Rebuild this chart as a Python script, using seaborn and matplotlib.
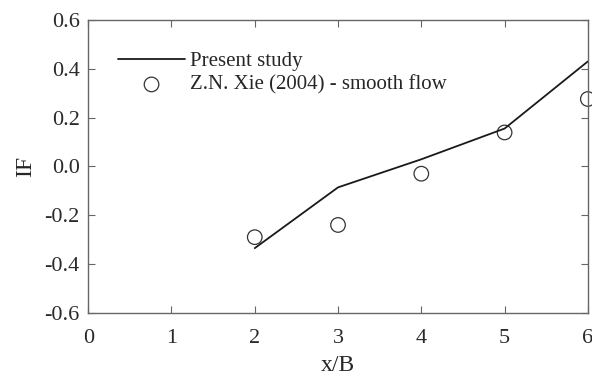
import pandas as pd
import matplotlib
matplotlib.use("Agg")
import matplotlib.pyplot as plt
import seaborn as sns

# data
x_present = [2, 3, 4, 5, 6]
if_present = [-0.335, -0.086, 0.029, 0.155, 0.43]
x_xie = [2, 3, 4, 5, 6]
if_xie = [-0.29, -0.24, -0.03, 0.139, 0.276]
x_ticks = [0, 1, 2, 3, 4, 5, 6]
y_ticks = [-0.6, -0.4, -0.2, 0.0, 0.2, 0.4, 0.6]

sns.set_theme(style="white")
plt.rcParams["font.family"] = ["Liberation Serif", "DejaVu Serif"]

df_line = pd.DataFrame({"x": x_present, "IF": if_present})
df_pts = pd.DataFrame({"x": x_xie, "IF": if_xie})

fig = plt.figure(figsize=(5.92, 3.76), dpi=100)
ax = fig.add_axes([0.149, 0.168, 0.844, 0.779])

sns.lineplot(data=df_line, x="x", y="IF", ax=ax, color="#1a1a1a",
             linewidth=1.3, label="Present study")
sns.scatterplot(data=df_pts, x="x", y="IF", ax=ax, marker="o", s=110,
                facecolor="none", edgecolor="#333333", linewidth=0.9,
                label="Z.N. Xie (2004) - smooth flow", clip_on=False)

ax.set_xlim(0, 6)
ax.set_ylim(-0.6, 0.6)
ax.set_xticks(x_ticks)
ax.set_yticks(y_ticks)
ax.set_yticklabels([f"{v:.1f}" for v in y_ticks])
ax.set_xlabel("x/B", fontsize=17, labelpad=5)
ax.set_ylabel("IF", fontsize=17, labelpad=6)
ax.tick_params(axis="both", direction="in", length=5, width=0.8,
               labelsize=16, colors="#666666", labelcolor="#2a2a2a",
               top=True, right=True, bottom=True, left=True, pad=6)
ax.tick_params(axis="x", pad=12)
for sp in ax.spines.values():
    sp.set_color("#666666")
    sp.set_linewidth(1.0)

ax.legend(loc="upper left", bbox_to_anchor=(0.06, 0.892), frameon=False,
          fontsize=15, handlelength=3.2, handletextpad=0.25,
          borderpad=0, borderaxespad=0, labelspacing=0.2)

fig.savefig("out.png", dpi=100)
